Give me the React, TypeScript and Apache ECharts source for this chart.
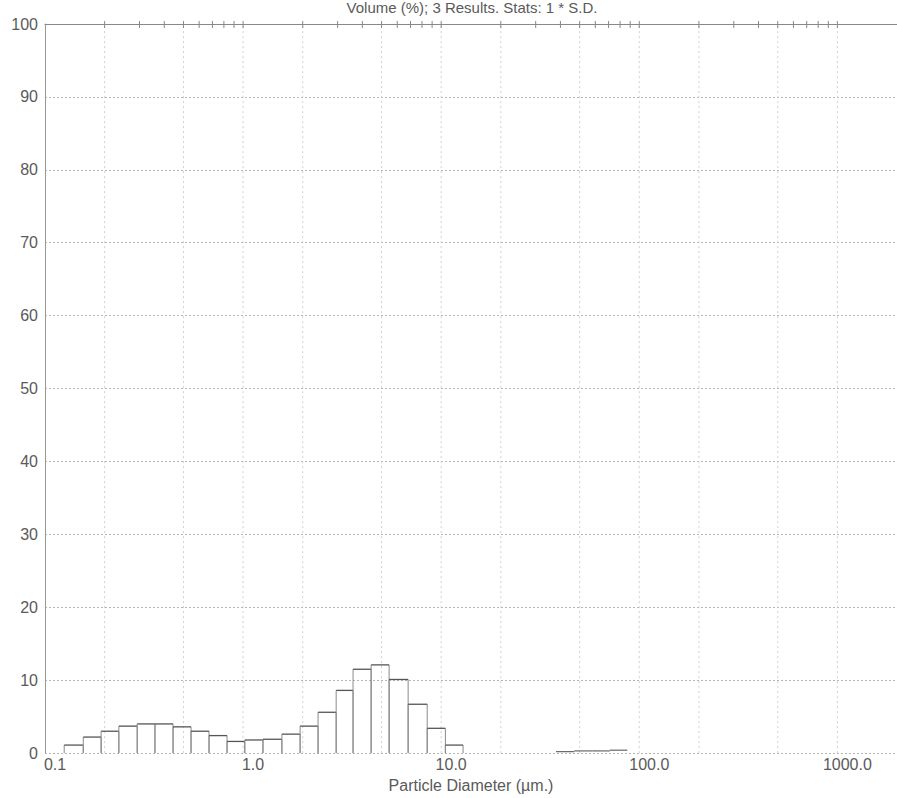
import React, { useEffect, useRef } from "react";
import * as echarts from "echarts";

const titleText = "Volume (%); 3 Results. Stats: 1 * S.D.";
const xAxisName = "Particle Diameter (µm.)";

// Bin edges (µm) and volume %
const binEdges = [0.125, 0.156, 0.192, 0.236, 0.292, 0.359, 0.443, 0.546, 0.673, 0.83, 1.02, 1.26, 1.57, 1.94, 2.39, 2.95, 3.59, 4.43, 5.46, 6.81, 8.5, 10.5, 12.9];
const volumePct = [1.1, 2.2, 3.0, 3.7, 4.0, 4.0, 3.6, 3.0, 2.4, 1.6, 1.8, 1.9, 2.6, 3.7, 5.6, 8.6, 11.5, 12.1, 10.1, 6.7, 3.4, 1.1];

// small coarse fraction near the baseline
const coarseEdges = [38, 47, 58, 71, 87];
const coarseValues = [0.2, 0.3, 0.3, 0.4];

const gridXValues = [0.2, 0.5, 1, 2, 5, 10, 20, 50, 100, 200, 500, 1000];
const topTickValues = [0.2, 0.3, 0.4, 0.5, 0.6, 0.7, 0.8, 0.9, 1, 2, 3, 4, 5, 6, 7, 8, 9, 10, 20, 30, 40, 50, 60, 70, 80, 90, 100, 200, 300, 400, 500, 600, 700, 800, 900, 1000];

const FONT = "'Liberation Sans', Arial, sans-serif";

export default function App() {
  const ref = useRef<HTMLDivElement>(null);
  useEffect(() => {
    if (!ref.current) return;
    const chart = echarts.init(ref.current, null, { renderer: "svg" });

    const histData = volumePct.map((v, i) => [binEdges[i], binEdges[i + 1], v]);
    const coarseData = coarseValues.map((v, i) => [coarseEdges[i], coarseEdges[i + 1], v]);

    const renderBar = (params: any, api: any) => {
      const x0 = api.value(0);
      const x1 = api.value(1);
      const v = api.value(2);
      const pTop = api.coord([x0, v]);
      const pBot = api.coord([x1, 0]);
      return {
        type: "group",
        children: [
          { type: "line", shape: { x1: pTop[0], y1: pBot[1], x2: pTop[0], y2: pTop[1] }, style: { stroke: "#8a8a8a", lineWidth: 1 } },
          { type: "line", shape: { x1: pBot[0], y1: pBot[1], x2: pBot[0], y2: pTop[1] }, style: { stroke: "#8a8a8a", lineWidth: 1 } },
          { type: "line", shape: { x1: pTop[0], y1: pTop[1], x2: pBot[0], y2: pTop[1] }, style: { stroke: "#555", lineWidth: 1.3 } },
        ],
      };
    };

    const renderDash = (params: any, api: any) => {
      const x0 = api.value(0);
      const x1 = api.value(1);
      const v = api.value(2);
      const a = api.coord([x0, v]);
      const b = api.coord([x1, v]);
      return { type: "line", shape: { x1: a[0], y1: a[1], x2: b[0], y2: b[1] }, style: { stroke: "#666", lineWidth: 1.2 } };
    };

    chart.setOption({
      animation: false,
      backgroundColor: "#fff",
      graphic: [
        {
          type: "text",
          x: 472,
          y: 0,
          style: { text: titleText, fontSize: 15, fontFamily: FONT, fill: "#5a5a5a", align: "center", verticalAlign: "top" },
        },
      ],
      grid: { left: 45, right: 0, top: 24, bottom: 41, containLabel: false },
      xAxis: [
        {
          type: "log",
          logBase: 10,
          min: 0.1,
          max: 2000,
          position: "bottom",
          axisLine: { show: false },
          axisTick: { show: false },
          splitLine: { show: false },
          axisLabel: {
            show: true,
            fontSize: 16,
            fontFamily: FONT,
            color: "#5a5a5a",
            margin: 3,
            padding: [0, 0, 0, 20],
            showMaxLabel: false,
            formatter: (v: number) => Number(v).toFixed(1),
          },
          name: xAxisName,
          nameLocation: "middle",
          nameGap: 22,
          nameTextStyle: { fontSize: 16, fontFamily: FONT, color: "#5a5a5a" },
        },
        {
          type: "log",
          logBase: 10,
          min: 0.1,
          max: 2000,
          position: "top",
          axisLine: { show: true, lineStyle: { color: "#888", width: 1 } },
          axisTick: { show: false },
          axisLabel: { show: false },
          splitLine: { show: false },
        },
      ],
      yAxis: {
        type: "value",
        min: 0,
        max: 100,
        interval: 10,
        axisLine: { show: true, lineStyle: { color: "#999", width: 1 } },
        axisTick: { show: false },
        axisLabel: { fontSize: 16, fontFamily: FONT, color: "#5a5a5a", margin: 7, padding: [0, 0, 9, 0] },
        splitLine: { show: true, lineStyle: { color: "#b5b5b5", type: [2, 2], width: 1 } },
      },
      series: [
        {
          type: "custom",
          name: "gridX",
          xAxisIndex: 0,
          data: gridXValues.map((x) => [x, 0]),
          encode: { x: 0, y: 1 },
          silent: true,
          renderItem: (params: any, api: any) => {
            const x = api.value(0);
            const a = api.coord([x, 0]);
            const b = api.coord([x, 100]);
            return { type: "line", shape: { x1: a[0], y1: a[1], x2: b[0], y2: b[1] }, style: { stroke: "#d0d0d0", lineWidth: 1, lineDash: [2, 3] } };
          },
        },
        {
          type: "custom",
          name: "topTicks",
          xAxisIndex: 0,
          data: topTickValues.map((x) => [x, 100]),
          encode: { x: 0, y: 1 },
          silent: true,
          renderItem: (params: any, api: any) => {
            const x = api.value(0);
            const a = api.coord([x, 100]);
            return { type: "line", shape: { x1: a[0], y1: a[1] - 3, x2: a[0], y2: a[1] + 4 }, style: { stroke: "#888", lineWidth: 1 } };
          },
        },
        {
          type: "custom",
          name: "Volume (%)",
          xAxisIndex: 0,
          data: histData,
          encode: { x: [0, 1], y: 2 },
          renderItem: renderBar,
        },
        {
          type: "custom",
          name: "Coarse",
          xAxisIndex: 0,
          data: coarseData,
          encode: { x: [0, 1], y: 2 },
          renderItem: renderDash,
        },
      ],
    });
    return () => chart.dispose();
  }, []);
  return <div ref={ref} style={{ position: "fixed", left: 0, top: 0, width: 897, height: 798 }} />;
}
